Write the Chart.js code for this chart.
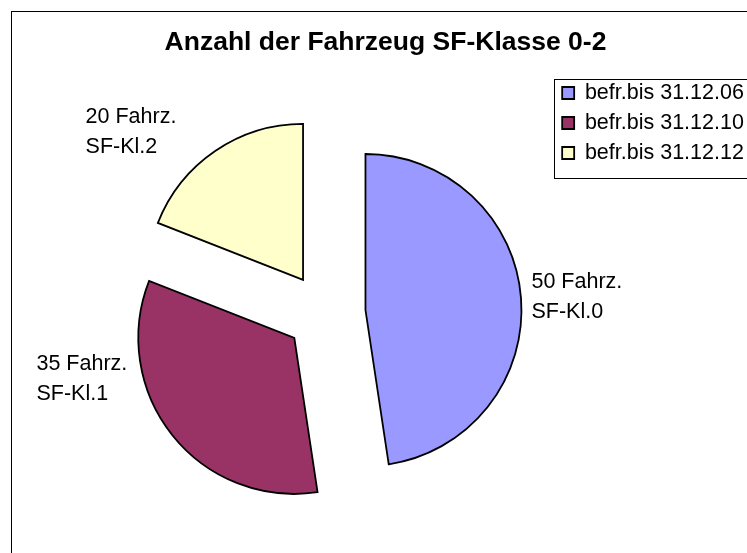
<!DOCTYPE html>
<html lang="de">
<head>
<meta charset="utf-8">
<title>Anzahl der Fahrzeug SF-Klasse 0-2</title>
<script src="https://cdn.jsdelivr.net/npm/chart.js@4.4.1/dist/chart.umd.min.js"></script>
<style>
    html, body { margin: 0; padding: 0; overflow: hidden; background: #fff; }
    #chart-wrap { position: absolute; left: 0; top: 0; width: 800px; height: 580px; }
</style>
</head>
<body>
<div id="chart-wrap"><canvas id="sfChart" width="800" height="580"></canvas></div>
<script>
// --- Chart data ---
const chartTitle = 'Anzahl der Fahrzeug SF-Klasse 0-2';
const legendLabels = ['befr.bis 31.12.06', 'befr.bis 31.12.10', 'befr.bis 31.12.12'];
const vehicleCounts = [50, 35, 20];
const sfClasses = ['SF-Kl.0', 'SF-Kl.1', 'SF-Kl.2'];

// --- Styling ---
const sliceColors = ['#9999FF', '#993366', '#FFFFCC'];
const explodeDistance = [40, 40, 40];
// label anchor (left edge, middle of the two lines) relative to the exploded slice centre, in radius units
const labelPlacement = [
    { dx: 1.064, dy: -0.083 },
    { dx: -1.653, dy: 0.263 },
    { dx: -1.394, dy: -0.947 }
];
const fontFamily = '"Liberation Sans", Arial, sans-serif';

function explodedCentre(arc, i) {
    const mid = (arc.startAngle + arc.endAngle) / 2;
    return {
        x: arc.x + Math.cos(mid) * explodeDistance[i],
        y: arc.y + Math.sin(mid) * explodeDistance[i]
    };
}

// white background, outer frame (runs past the right and bottom edge like the original) and title
const framePlugin = {
    id: 'frame',
    beforeDraw(chart) {
        const ctx = chart.ctx;
        ctx.save();
        ctx.fillStyle = '#fff';
        ctx.fillRect(0, 0, chart.width, chart.height);
        ctx.strokeStyle = '#000';
        ctx.lineWidth = 1;
        ctx.strokeRect(11.5, 11.5, chart.width - 23, chart.height - 23);
        // the title sits off the pie's axis in the original, so it is drawn here
        ctx.font = 'bold 26.5px ' + fontFamily;
        ctx.fillStyle = '#000';
        ctx.textAlign = 'center';
        ctx.textBaseline = 'middle';
        ctx.fillText(chartTitle, 385.5, 43);
        ctx.restore();
    }
};

// draw each slice pulled out along its bisector
const explodePlugin = {
    id: 'explode',
    beforeDatasetDraw(chart, args) {
        const ctx = chart.ctx;
        args.meta.data.forEach((arc, i) => {
            const mid = (arc.startAngle + arc.endAngle) / 2;
            ctx.save();
            ctx.translate(Math.cos(mid) * explodeDistance[i], Math.sin(mid) * explodeDistance[i]);
            arc.draw(ctx, chart.chartArea);
            ctx.restore();
        });
        return false;
    }
};

// two-line data labels next to the slices
const sliceLabelPlugin = {
    id: 'sliceLabels',
    afterDatasetsDraw(chart) {
        const ctx = chart.ctx;
        const meta = chart.getDatasetMeta(0);
        ctx.save();
        ctx.font = '21.5px ' + fontFamily;
        ctx.fillStyle = '#000';
        ctx.textAlign = 'left';
        ctx.textBaseline = 'middle';
        meta.data.forEach((arc, i) => {
            const c = explodedCentre(arc, i);
            const x = c.x + labelPlacement[i].dx * arc.outerRadius;
            const y = c.y + labelPlacement[i].dy * arc.outerRadius;
            ctx.fillText(vehicleCounts[i] + ' Fahrz.', x, y - 15);
            ctx.fillText(sfClasses[i], x, y + 15);
        });
        ctx.restore();
    }
};

// border round the legend
const legendBoxPlugin = {
    id: 'legendBox',
    afterDraw(chart) {
        const lg = chart.legend;
        if (!lg || !lg.legendHitBoxes || !lg.legendHitBoxes.length) return;
        const boxes = lg.legendHitBoxes;
        const top = boxes[0].top - 3;
        const last = boxes[boxes.length - 1];
        const bottom = last.top + last.height + 14;
        const ctx = chart.ctx;
        ctx.save();
        ctx.strokeStyle = '#000';
        ctx.lineWidth = 1;
        ctx.strokeRect(Math.round(lg.left) + 0.5, Math.round(top) + 0.5, chart.width, Math.round(bottom - top));
        ctx.restore();
    }
};

const ctx = document.getElementById('sfChart').getContext('2d');
new Chart(ctx, {
    type: 'pie',
    data: {
        labels: legendLabels,
        datasets: [{
            data: vehicleCounts,
            backgroundColor: sliceColors,
            borderColor: '#000',
            borderWidth: 1.8,
            borderJoinStyle: 'miter',
            radius: 156
        }]
    },
    options: {
        responsive: false,
        animation: false,
        events: [],
        layout: {
            padding: { left: 97.5, right: 46.1, top: 73.75, bottom: 27.75 }
        },
        plugins: {
            title: { display: false },
            legend: {
                display: true,
                position: 'right',
                align: 'start',
                fullSize: false,
                labels: {
                    color: '#000',
                    font: { family: fontFamily, size: 21.5 },
                    boxWidth: 12,
                    boxHeight: 12,
                    padding: 8.5
                }
            },
            tooltip: { enabled: false }
        }
    },
    plugins: [framePlugin, explodePlugin, sliceLabelPlugin, legendBoxPlugin]
});
</script>
</body>
</html>
